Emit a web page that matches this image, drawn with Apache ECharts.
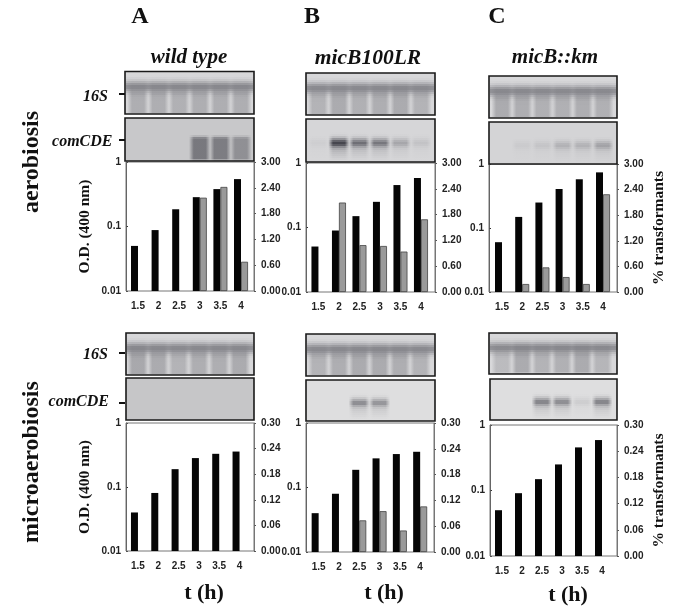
<!DOCTYPE html>
<html><head><meta charset="utf-8">
<style>html,body{margin:0;padding:0;background:#fff}#c{width:678px;height:610px}</style>
<script src="https://cdn.jsdelivr.net/npm/echarts@6/dist/echarts.min.js"></script>
</head><body><div id="c"></div>
<script>
const hours = ['1.5','2','2.5','3','3.5','4'];
// The log axis runs on OD x 100, so that its bars grow from the 0.01 floor (the library roots log bars at 1).
const odScale = 100;
const odTicks = {1:'0.01',10:'0.1',100:'1'};

const odAerobicA = [0.05,0.088,0.185,0.285,0.38,0.543];
const odAerobicB = [0.0507,0.0898,0.15,0.25,0.455,0.585];
const odAerobicC = [0.06,0.149,0.25,0.407,0.577,0.74];
const odMicroA = [0.04,0.0807,0.19,0.283,0.33,0.358];
const odMicroB = [0.04,0.08,0.188,0.283,0.33,0.358];
const odMicroC = [0.05,0.091,0.149,0.25,0.455,0.589];

const trAerobicA = [0,0,0,2.17,2.42,0.68];
const trAerobicB = [0,2.08,1.09,1.07,0.94,1.69];
const trAerobicC = [0,0.187,0.577,0.35,0.187,2.29];
const trMicroA = [0,0,0,0,0,0];
const trMicroB = [0,0,0.0736,0.095,0.05,0.106];
const trMicroC = [0,0,0,0,0,0];

const rna16A1 = [.8,.8,.75,.8,.8,.8];
const rna16B1 = [.7,.85,.75,.8,.85,.7];
const rna16C1 = [.85,.8,.75,.75,.8,.75];
const rna16A2 = [.9,.85,.7,.8,.8,.85];
const rna16B2 = [.7,.8,.85,.85,.8,.7];
const rna16C2 = [.55,.85,.7,.75,.85,.65];
const comA1 = [0,0,0,.85,.8,.6];
const comB1 = [.05,.95,.65,.6,.3,.12];
const comC1 = [0,.06,.1,.22,.22,.32];
const comA2 = [0,0,0,0,0,0];
const comB2 = [0,0,.5,.45,0,0];
const comC2 = [0,0,.55,.5,.1,.55];

const serif = '"Liberation Serif"';
const sans = '"Liberation Sans"';

const panels = [
 {od:odAerobicA,tr:trAerobicA,trMax:3,frame:[126,162,254,291],bars:[127.7,251.3],r16:rna16A1,com:comA1,
  b1:[125,71.5,254,114],b2:[125,118,254,161],base2:'#c8c8ca',thick:true,left:true},
 {od:odAerobicB,tr:trAerobicB,trMax:3,frame:[306,163,435,292],bars:[308.2,431.2],r16:rna16B1,com:comB1,
  b1:[306,73,435,115],b2:[306,119,435,162],base2:'#d6d6d8'},
 {od:odAerobicC,tr:trAerobicC,trMax:3,frame:[489,164,617,292],bars:[491.9,613.1],r16:rna16C1,com:comC1,
  b1:[489,76,617,118],b2:[489,122,617,164],base2:'#d4d4d6',right:true},
 {od:odMicroA,tr:trMicroA,trMax:.3,frame:[126,423,254,551],bars:[127.8,249.7],r16:rna16A2,com:comA2,
  b1:[126,333,254,375],b2:[126,378,254,420],base2:'#c6c6c8',left:true},
 {od:odMicroB,tr:trMicroB,trMax:.3,frame:[306,423,434,552],bars:[308.5,430.3],r16:rna16B2,com:comB2,
  b1:[306,334,435,376],b2:[306,380,435,421],base2:'#dededf'},
 {od:odMicroC,tr:trMicroC,trMax:.3,frame:[490,425,617,556],bars:[492,612],r16:rna16C2,com:comC2,
  b1:[489,333,617,374],b2:[490,379,617,420],base2:'#dededf',right:true}
];

const grid=[],xAxis=[],yAxis=[],series=[],graphic=[];
function rect(x,y,w,h,style,z){graphic.push({type:'rect',shape:{x,y,width:w,height:h},style,z:z||1,silent:true});}
function ink(a){return 'rgba(70,70,78,'+Math.max(0,Math.min(1,a)).toFixed(3)+')';}
function hgrad(a){return {type:'linear',x:0,y:0,x2:1,y2:0,colorStops:[
  {offset:0,color:ink(0)},{offset:.22,color:ink(a)},{offset:.78,color:ink(a)},{offset:1,color:ink(0)}]};}
function gauss(t,m,s){return Math.exp(-(t-m)*(t-m)/(2*s*s));}

function blot(p,box,base,vals,kind){
  const [x0,y0,x1,y1]=box, h=y1-y0, band=(p.bars[1]-p.bars[0])/6;
  rect(x0,y0,x1-x0,h,{fill:base},2);
  const rowH=2, top=Math.ceil(y0)+1, bottom=Math.floor(y1)-1;
  for(let y=top;y<bottom;y+=rowH){
    const t=(y+1-y0)/h;
    if(kind==='r16'){
      rect(x0+1,y,x1-x0-2,rowH,{fill:ink(.5*gauss(t,.36,.09))},3);
    }
    vals.forEach((v,i)=>{
      if(v<=0) return;
      const cx=p.bars[0]+(i+.5)*band, w=band+1;
      let a;
      if(kind==='r16'){
        a=v*(.14*gauss(t,.36,.1)+.36*Math.min(1,Math.max(0,(t-.38)/.15))*(t>.96?.6:1));
      } else if(p.thick){
        a=v*.72*Math.min(1,Math.max(0,(t-.4)/.08))*(t>.94?.5:1);
      } else {
        a=v*(.85*gauss(t,.54,.07)+.34*Math.min(1,Math.max(0,(t-.5)/.08))*Math.max(0,1-(t-.6)/.38));
      }
      if(a>.004) rect(cx-w/2,y,w,rowH,{fill:hgrad(a)},3);
    });
  }
  rect(x0,y0,x1-x0,h,{fill:'none',stroke:'#1a1a1a',lineWidth:1.6},4);
}

panels.forEach((p,i)=>{
  const [fl,ft,fr,fb]=p.frame, [bl,br]=p.bars;
  rect(fl,ft,fr-fl,fb-ft,{fill:'none',stroke:'#777',lineWidth:1},0);
  blot(p,p.b1,'#d8d8da',p.r16,'r16');
  blot(p,p.b2,p.base2,p.com,'com');
  grid.push({left:bl,width:br-bl,top:ft,height:fb-ft});
  xAxis.push({gridIndex:i,type:'category',data:hours,axisLine:{show:false},axisTick:{show:false},
    axisLabel:{margin:10,fontSize:10,fontFamily:sans,fontWeight:'bold',color:'#222',interval:0}});
  yAxis.push({gridIndex:i,type:'log',logBase:10,min:1,max:100,position:'left',offset:bl-fl,splitLine:{show:false},
    axisLine:{show:true,lineStyle:{color:'#555',width:1}},
    axisTick:{show:true,inside:true,length:2,lineStyle:{color:'#333'}},
    minorTick:{show:true,splitNumber:9,length:1,lineStyle:{color:'#555'}},minorSplitLine:{show:false},
    axisLabel:{margin:5,fontSize:10,fontFamily:sans,fontWeight:'bold',color:'#222',formatter:v=>odTicks[v]||String(v/odScale)},
    name:p.left?'O.D. (400 nm)':'',nameLocation:'middle',nameGap:33,
    nameTextStyle:{fontFamily:serif,fontWeight:'bold',fontSize:15.5,color:'#111'}});
  yAxis.push({gridIndex:i,type:'value',min:0,max:p.trMax,interval:p.trMax/5,position:'right',offset:fr-br,splitLine:{show:false},
    axisLine:{show:true,lineStyle:{color:'#777',width:1}},
    axisTick:{show:true,length:2,lineStyle:{color:'#555'}},
    axisLabel:{margin:7,fontSize:10,fontFamily:sans,fontWeight:'bold',color:'#222',formatter:v=>v.toFixed(2)},
    name:p.right?'% transformants':'',nameLocation:'middle',nameRotate:90,nameGap:34,
    nameTextStyle:{fontFamily:serif,fontWeight:'bold',fontSize:15.5,color:'#111'}});
  series.push({type:'bar',xAxisIndex:i,yAxisIndex:2*i,data:p.od.map(v=>v*odScale),barWidth:7,barGap:0,silent:true,
    itemStyle:{color:'#050505'}});
  series.push({type:'bar',xAxisIndex:i,yAxisIndex:2*i+1,data:p.tr.map(v=>v||null),barWidth:7,barGap:0,silent:true,
    itemStyle:{color:'#9a9a9a',borderColor:'#444',borderWidth:.8}});
});

function text(t,x,y,size,opt){
  opt=opt||{};
  graphic.push({type:'text',x,y,rotation:opt.rot||0,silent:true,z:5,style:{text:t,fill:'#111',
    font:(opt.italic?'italic ':'')+'bold '+size+'px '+serif,align:opt.align||'center',verticalAlign:'middle'}});
}
text('A',140,17,24);text('B',312,17,24);text('C',497,17,24);
text('wild type',189,58,21,{italic:true});
text('micB100LR',368,58,21.5,{italic:true});
text('micB::km',555,58,21,{italic:true});
text('aerobiosis',32,162,24,{rot:Math.PI/2});
text('microaerobiosis',32,462,24,{rot:Math.PI/2});
text('16S',108,97,16,{italic:true,align:'right'});
text('comCDE',112.5,142,16,{italic:true,align:'right'});
text('16S',108,355,16,{italic:true,align:'right'});
text('comCDE',109,402,16,{italic:true,align:'right'});
text('t (h)',204,593,22);text('t (h)',384,593,22);text('t (h)',568,595,22);
[[119,94],[119,140],[119,353],[119,403]].forEach(m=>rect(m[0],m[1]-1,6,2,{fill:'#111'},4));

const chart=echarts.init(document.getElementById('c'),null,{renderer:'canvas'});
chart.setOption({animation:false,backgroundColor:'#fff',grid,xAxis,yAxis,series,graphic});
</script></body></html>
